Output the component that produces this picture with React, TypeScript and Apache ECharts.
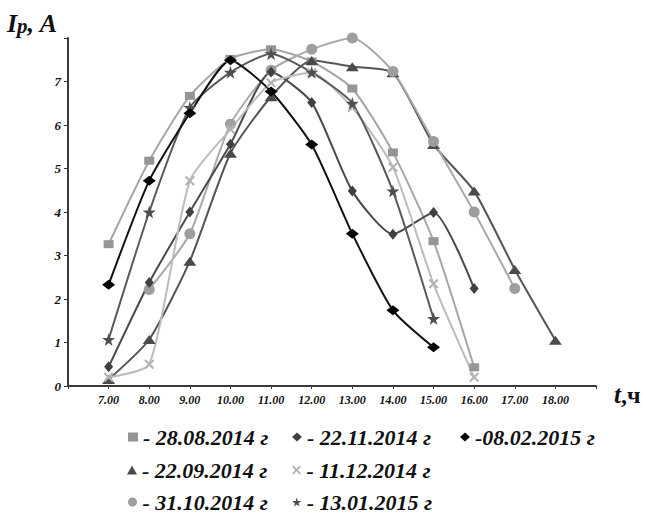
import React, { useEffect, useRef } from "react";
import * as echarts from "echarts";

// Hours of the day (x axis) and measured current Ip, A for each date
const HOURS = [7, 8, 9, 10, 11, 12, 13, 14, 15, 16, 17, 18];

const S_2808 = [3.26, 5.18, 6.67, 7.52, 7.74, 7.46, 6.84, 5.37, 3.33, 0.43, null, null];
const S_2209 = [0.15, 1.07, 2.87, 5.35, 6.65, 7.48, 7.34, 7.2, 5.55, 4.48, 2.68, 1.05];
const S_3110 = [null, 2.22, 3.5, 6.02, 7.26, 7.74, 8.0, 7.23, 5.62, 4.0, 2.24, null];
const S_2211 = [0.44, 2.38, 4.0, 5.56, 7.22, 6.52, 4.48, 3.49, 3.99, 2.24, null, null];
const S_1112 = [0.2, 0.5, 4.72, 5.9, 6.97, 7.2, 6.4, 5.03, 2.35, 0.2, null, null];
const S_1301 = [1.07, 4.0, 6.4, 7.21, 7.64, 7.21, 6.5, 4.48, 1.55, null, null, null];
const S_0802 = [2.33, 4.72, 6.27, 7.49, 6.77, 5.55, 3.5, 1.74, 0.89, null, null, null];

const Y_TICKS = [0, 1, 2, 3, 4, 5, 6, 7];

const SERIF = "'Liberation Serif', 'Times New Roman', serif";

const STAR = "path://M50,0L61,35L98,35L68,57L79,91L50,70L21,91L32,57L2,35L39,35Z";
const CROSS = "path://M0,1.5L1.5,0L5,3.5L8.5,0L10,1.5L6.5,5L10,8.5L8.5,10L5,6.5L1.5,10L0,8.5L3.5,5Z";

type Def = {
  name: string;
  label: string;
  values: (number | null)[];
  color: string;
  lineColor: string;
  symbol: string;
  size: number | number[];
  legendIcon: string;
  legendPos: [number, number];
};

const DEFS: Def[] = [
  { name: "28.08.2014", label: "- 28.08.2014 г", values: S_2808, color: "#959595", lineColor: "#a6a6a6", symbol: "rect", size: [10, 8], legendIcon: "rect", legendPos: [128, 426] },
  { name: "22.09.2014", label: "- 22.09.2014 г", values: S_2209, color: "#4a4a4a", lineColor: "#555555", symbol: "triangle", size: [13, 9], legendIcon: "triangle", legendPos: [127, 459] },
  { name: "31.10.2014", label: "- 31.10.2014 г", values: S_3110, color: "#9e9e9e", lineColor: "#a9a9a9", symbol: "circle", size: 11, legendIcon: "circle", legendPos: [128, 491] },
  { name: "22.11.2014", label: "- 22.11.2014 г", values: S_2211, color: "#404040", lineColor: "#4a4a4a", symbol: "diamond", size: [9, 11], legendIcon: "diamond", legendPos: [292, 426] },
  { name: "11.12.2014", label: "- 11.12.2014 г", values: S_1112, color: "#b3b3b3", lineColor: "#bcbcbc", symbol: CROSS, size: 10, legendIcon: CROSS, legendPos: [292, 459] },
  { name: "13.01.2015", label: "- 13.01.2015 г", values: S_1301, color: "#4f4f4f", lineColor: "#5a5a5a", symbol: STAR, size: 13, legendIcon: STAR, legendPos: [292, 491] },
  { name: "08.02.2015", label: "-08.02.2015 г", values: S_0802, color: "#050505", lineColor: "#111111", symbol: "diamond", size: [13, 10], legendIcon: "diamond", legendPos: [460, 426] },
];

export default function App() {
  const ref = useRef<HTMLDivElement>(null);

  useEffect(() => {
    if (!ref.current) return;
    const chart = echarts.init(ref.current, undefined, { renderer: "svg" });
    const labelOf: Record<string, string> = {};
    DEFS.forEach((d) => (labelOf[d.name] = d.label));

    const axisLabelStyle = {
      fontFamily: SERIF,
      fontWeight: "bold" as const,
      fontStyle: "italic" as const,
      fontSize: 12,
      color: "#111",
    };

    chart.setOption({
      animation: false,
      backgroundColor: "#ffffff",
      grid: { left: 68, right: 50, top: 38, bottom: 127, containLabel: false },
      xAxis: {
        type: "value",
        min: 6,
        max: 19,
        interval: 1,
        splitLine: { show: false },
        axisLine: { lineStyle: { color: "#3a3a3a", width: 2 } },
        axisTick: { show: true, length: 3, lineStyle: { color: "#3a3a3a" } },
        axisLabel: {
          ...axisLabelStyle,
          margin: 8,
          formatter: (v: number) => (v >= HOURS[0] && v <= HOURS[HOURS.length - 1] ? v.toFixed(2) : ""),
        },
      },
      yAxis: {
        type: "value",
        min: 0,
        max: 8,
        interval: 1,
        splitLine: { show: false },
        axisLine: { show: true, lineStyle: { color: "#3a3a3a", width: 2 } },
        axisTick: { show: true, length: 4, lineStyle: { color: "#3a3a3a" } },
        axisLabel: {
          ...axisLabelStyle,
          fontSize: 13,
          margin: 7,
          formatter: (v: number) => (Y_TICKS.includes(v) ? String(v) : ""),
        },
      },
      legend: DEFS.map((d) => ({
        orient: "horizontal",
        left: d.legendPos[0],
        top: d.legendPos[1],
        padding: 0,
        itemWidth: 10,
        itemHeight: 9,
        selectedMode: false,
        data: [{ name: d.name, icon: d.legendIcon }],
        formatter: (n: string) => labelOf[n],
        textStyle: {
          fontFamily: SERIF,
          fontWeight: "bold",
          fontStyle: "italic",
          fontSize: 22,
          lineHeight: 20,
          color: "#111",
        },
      })),
      graphic: [
        {
          type: "text",
          left: 7,
          top: 10,
          style: {
            text: "{i|I}{p|p}{a|, A}",
            rich: {
              i: { fontFamily: SERIF, fontWeight: "bold", fontStyle: "italic", fontSize: 26, fill: "#111" },
              p: { fontFamily: SERIF, fontWeight: "bold", fontStyle: "italic", fontSize: 21, fill: "#111", padding: [6, 0, 0, 0] },
              a: { fontFamily: SERIF, fontWeight: "bold", fontStyle: "italic", fontSize: 26, fill: "#111" },
            },
          },
        },
        {
          type: "text",
          left: 614,
          top: 382,
          style: {
            text: "{t|t}{c|,ч}",
            rich: {
              t: { fontFamily: SERIF, fontWeight: "bold", fontStyle: "italic", fontSize: 25, fill: "#111" },
              c: { fontFamily: SERIF, fontWeight: "bold", fontSize: 24, fill: "#111" },
            },
          },
        },
      ],
      series: DEFS.map((d) => ({
        name: d.name,
        type: "line",
        smooth: 0.2,
        symbol: d.symbol,
        symbolSize: d.size,
        showSymbol: true,
        connectNulls: false,
        data: HOURS.map((h, i) => [h, d.values[i]]),
        lineStyle: { color: d.lineColor, width: 2 },
        itemStyle: { color: d.color, borderWidth: 0 },
        emphasis: { disabled: true },
      })),
    });
    return () => chart.dispose();
  }, []);

  return (
    <div
      ref={ref}
      style={{ position: "fixed", left: 0, top: 0, width: 646, height: 513, background: "#fff" }}
    />
  );
}
